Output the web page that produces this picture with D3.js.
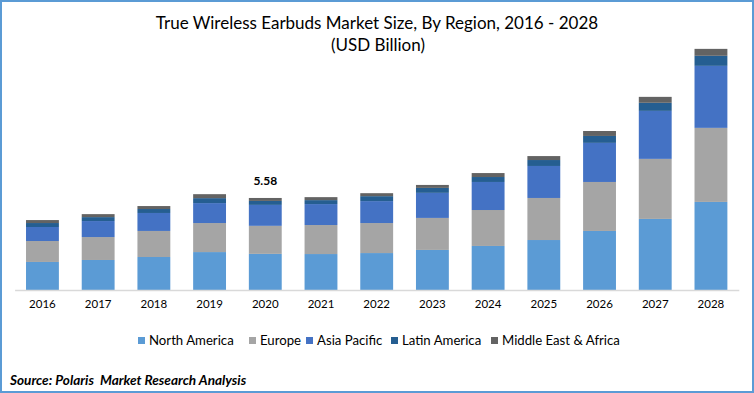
<!DOCTYPE html>
<html lang="en">
<head>
<meta charset="utf-8">
<title>True Wireless Earbuds Market Size, By Region</title>
<script src="https://cdn.jsdelivr.net/npm/d3@7"></script>
<style>
  body { margin: 0; background: #fff; }
  svg text { font-family: Lato, "Open Sans", sans-serif; fill: #000; }
</style>
</head>
<body>
<div id="chart"></div>
<script>
// values (USD billion)
const years = ["2016","2017","2018","2019","2020","2021","2022","2023","2024","2025","2026","2027","2028"];
const regions = ["North America", "Europe", "Asia Pacific", "Latin America", "Middle East & Africa"];
const northAmerica = [1.70, 1.82, 2.00, 2.30, 2.19, 2.18, 2.24, 2.43, 2.67, 3.03, 3.58, 4.31, 5.34];
const europe       = [1.27, 1.39, 1.58, 1.76, 1.70, 1.76, 1.82, 1.94, 2.18, 2.55, 2.97, 3.64, 4.49];
const asiaPacific  = [0.85, 0.97, 1.09, 1.21, 1.27, 1.27, 1.33, 1.52, 1.70, 1.94, 2.37, 2.91, 3.76];
const latinAmerica = [0.24, 0.24, 0.24, 0.30, 0.24, 0.24, 0.30, 0.30, 0.30, 0.36, 0.42, 0.49, 0.61];
const middleEast   = [0.18, 0.18, 0.18, 0.24, 0.18, 0.18, 0.18, 0.18, 0.24, 0.24, 0.30, 0.36, 0.42];
const labelYear = "2020";

const colors = ["#5b9bd5", "#a5a5a5", "#4472c4", "#255e91", "#636363"];
const series = [northAmerica, europe, asiaPacific, latinAmerica, middleEast];

const width = 754, height = 393;
const rows = years.map((y, i) => {
    const r = {year: y};
    regions.forEach((k, j) => r[k] = series[j][i]);
    return r;
});

const svg = d3.select("#chart").append("svg")
    .attr("width", width)
    .attr("height", height);

// outer frame
svg.append("rect")
    .attr("x", 1).attr("y", 1)
    .attr("width", width - 2).attr("height", height - 2)
    .attr("fill", "#fff")
    .attr("stroke", "#5b9bd5")
    .attr("stroke-width", 2);

const x = d3.scaleBand()
    .domain(years)
    .range([14.6, 738.8])
    .paddingInner(0.41)
    .paddingOuter(0.205);

const y = d3.scaleLinear()
    .domain([0, 15])
    .range([290, 42.6]);

const color = d3.scaleOrdinal().domain(regions).range(colors);

const stacked = d3.stack().keys(regions)(rows);

svg.append("g")
    .selectAll("g")
    .data(stacked)
    .join("g")
    .attr("fill", d => color(d.key))
    .selectAll("rect")
    .data(d => d)
    .join("rect")
    .attr("x", d => x(d.data.year))
    .attr("width", x.bandwidth())
    .attr("y", d => y(d[1]))
    .attr("height", d => y(d[0]) - y(d[1]));

// baseline + year labels
const xAxis = svg.append("g")
    .attr("transform", `translate(0,${y(0)})`)
    .call(d3.axisBottom(x).tickSize(0).tickPadding(10));
xAxis.select(".domain").attr("stroke", "#d9d9d9").attr("stroke-width", 1.5);
xAxis.selectAll("text")
    .style("font-family", "Lato, sans-serif")
    .attr("font-size", "11.5px")
    .attr("fill", "#000");

// total label
const li = years.indexOf(labelYear);
const total = d3.sum(series, s => s[li]);
svg.append("text")
    .attr("x", x(labelYear) + x.bandwidth() / 2)
    .attr("y", y(total) - 13)
    .attr("text-anchor", "middle")
    .attr("font-size", "12px")
    .attr("font-weight", "bold")
    .text(d3.format(".2f")(total));

// title
svg.append("text")
    .attr("x", 377).attr("y", 29)
    .attr("text-anchor", "middle")
    .attr("font-size", "17px")
    .text("True Wireless Earbuds Market Size, By Region, 2016 - 2028");
svg.append("text")
    .attr("x", 378).attr("y", 51)
    .attr("text-anchor", "middle")
    .attr("font-size", "17px")
    .text("(USD Billion)");

// legend
const legendX = [138, 249, 306, 391, 491];
const legend = svg.append("g")
    .selectAll("g")
    .data(regions)
    .join("g")
    .attr("transform", (d, i) => `translate(${legendX[i]},337)`);
legend.append("rect")
    .attr("width", 7).attr("height", 7)
    .attr("fill", d => color(d));
legend.append("text")
    .attr("x", 11).attr("y", 8)
    .attr("font-size", "13.2px")
    .text(d => d);

// source
svg.append("text")
    .attr("x", 10).attr("y", 385)
    .attr("font-size", "13.6px")
    .attr("font-weight", "bold")
    .attr("font-style", "italic")
    .style("white-space", "pre")
    .text("Source: Polaris  Market Research Analysis");
</script>
</body>
</html>
